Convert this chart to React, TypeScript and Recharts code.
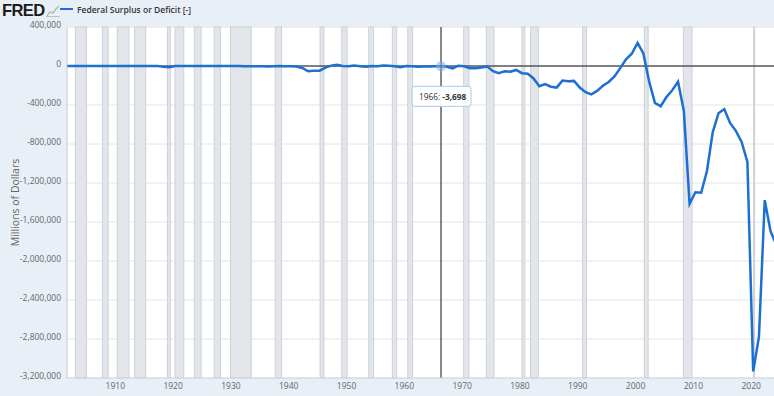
import React from 'react';
import {
  LineChart,
  Line,
  XAxis,
  YAxis,
  CartesianGrid,
  ReferenceArea,
  ReferenceLine,
  ReferenceDot,
} from 'recharts';

// Federal Surplus or Deficit [-], millions of dollars, fiscal years from 1901
const START_YEAR = 1901;
const deficitValues: number[] = [
  63, 77, 45, -43, -23, 25, 87, -57, -89, -18, // 1901-1910
  11, 3, 0, 0, -63, 48, -853, -9032, -13363, 291, // 1911-1920
  509, 736, 713, 963, 717, 865, 1155, 939, 734, 738, // 1921-1930
  -462, -2735, -2602, -3586, -2803, -4304, -2193, -89, -2846, -2920, // 1931-1940
  -4941, -20503, -54554, -47557, -47553, -15936, 4018, 11796, 580, -3119, // 1941-1950
  6102, -1519, -6493, -1154, -2993, 3947, 3412, -2769, -12849, 301, // 1951-1960
  -3335, -7146, -4756, -5915, -1411, -3698, -8643, -25161, 3242, -2842, // 1961-1970
  -23033, -23373, -14908, -6135, -53242, -73732, -53659, -59185, -40726, -73830, // 1971-1980
  -78968, -127977, -207802, -185367, -212308, -221227, -149730, -155178, -152639, -221036, // 1981-1990
  -269238, -290321, -255051, -203186, -163952, -107431, -21884, 69270, 125610, 236241, // 1991-2000
  128236, -157758, -377585, -412727, -318346, -248181, -160701, -458553, -1412688, -1294373, // 2001-2010
  -1299599, -1076573, -679775, -484602, -441960, -584651, -665446, -779137, -983593, -3131917, // 2011-2020
  -2775298, -1375905, -1693668, -1832816, // 2021-2024
];

const decadeTicks = [1910, 1920, 1930, 1940, 1950, 1960, 1970, 1980, 1990, 2000, 2010, 2020];
const yTicks = [400000, 0, -400000, -800000, -1200000, -1600000, -2000000, -2400000, -2800000, -3200000];

// NBER recession periods (decimal years)
const recessionStarts = [1902.75, 1907.42, 1910.0, 1913.0, 1918.67, 1920.0, 1923.33, 1926.75, 1929.58, 1937.33, 1945.08, 1948.83, 1953.5, 1957.58, 1960.25, 1969.92, 1973.83, 1980.0, 1981.5, 1990.5, 2001.17, 2007.92, 2020.08];
const recessionEnds = [1904.67, 1908.42, 1912.0, 1914.92, 1919.17, 1921.5, 1924.5, 1927.83, 1933.17, 1938.42, 1945.75, 1949.75, 1954.33, 1958.33, 1961.08, 1970.83, 1975.17, 1980.5, 1982.83, 1991.17, 2001.83, 2009.42, 2020.25];

const highlightYear = 1966;
const seriesName = 'Federal Surplus or Deficit [-]';
const yAxisTitle = 'Millions of Dollars';

const data = deficitValues.map((v, i) => ({ year: START_YEAR + i, value: v }));
const highlight = data.find((d) => d.year === highlightYear)!;

const FONT = '"Open Sans", "Noto Sans", sans-serif';
const LINE_COLOR = '#1d6fd2';

const fmt = (v: number) => v.toLocaleString('en-US');

const YTick = (props: any) => {
  const { x, y, payload } = props;
  return (
    <text x={x} y={y - 3} textAnchor="end" dominantBaseline="central" fill="#666" fontSize={8.5} fontFamily={FONT}>
      {fmt(payload.value)}
    </text>
  );
};

const XTick = (props: any) => {
  const { x, y, payload } = props;
  return (
    <text x={x - 2} y={y + 11} textAnchor="middle" fill="#666" fontSize={8.5} fontFamily={FONT}>
      {payload.value}
    </text>
  );
};

const TooltipShape = (props: any) => {
  const { cx, cy } = props;
  const w = 59;
  const h = 20;
  const bx = cx - 29;
  const by = cy + 20;
  return (
    <g>
      <circle cx={cx} cy={cy} r={5} fill="#7fb0e0" fillOpacity={0.55} />
      <rect x={bx} y={by} width={w} height={h} rx={3} fill="#ffffff" fillOpacity={0.95} stroke="#a8cbea" strokeWidth={1} />
      <text x={bx + 7} y={by + h / 2} dominantBaseline="central" fontSize={8.3} fontFamily={FONT} fill="#333">
        {`${highlight.year}:  `}
        <tspan fontWeight={700}>{fmt(highlight.value)}</tspan>
      </text>
    </g>
  );
};

export default function App() {
  return (
    <div
      style={{
        position: 'fixed',
        left: 0,
        top: 0,
        width: 774,
        height: 396,
        overflow: 'hidden',
        background: '#e9eff7',
        fontFamily: FONT,
      }}
    >
      <div style={{ position: 'absolute', left: 2, top: 0, height: 20, display: 'flex', alignItems: 'center' }}>
        <span
          style={{
            fontFamily: '"Liberation Sans", Arial, sans-serif',
            fontWeight: 900,
            fontSize: 16.5,
            letterSpacing: -0.6,
            color: '#1c1c1c',
            lineHeight: '20px',
          }}
        >
          FRED
        </span>
        <svg width={14} height={12} style={{ marginLeft: 1, marginTop: 2 }}>
          <polyline points="1,11 4,7 7,8 10,4 13,1" fill="none" stroke="#9bb99b" strokeWidth={1.2} />
          <line x1={0} y1={11.5} x2={14} y2={11.5} stroke="#b8c8b8" strokeWidth={1} />
        </svg>
      </div>
      <div style={{ position: 'absolute', left: 60, top: 3, display: 'flex', alignItems: 'center', height: 12 }}>
        <div style={{ width: 13, height: 2, background: LINE_COLOR, marginRight: 4 }} />
        <span style={{ fontSize: 8.5, fontWeight: 600, color: '#333', fontFamily: FONT }}>{seriesName}</span>
      </div>
      <LineChart width={774} height={396} data={data} margin={{ top: 27, right: 0, left: 0, bottom: 0 }}>
        <CartesianGrid vertical={false} stroke="#e4e4e4" fill="#ffffff" />
        {recessionStarts.map((s, i) => (
          <ReferenceArea
            key={`r${i}`}
            x1={s}
            x2={recessionEnds[i]}
            fill="#e2e6eb"
            fillOpacity={1}
            stroke="#ccd1d7"
            strokeWidth={1}
          />
        ))}
        <XAxis
          dataKey="year"
          type="number"
          domain={[1901.3, 2023.6]}
          allowDataOverflow
          ticks={decadeTicks}
          height={18}
          tickLine={false}
          tickSize={0}
          tickMargin={0}
          axisLine={{ stroke: '#ccd6eb' }}
          tick={<XTick />}
          interval={0}
        />
        <YAxis
          type="number"
          domain={[-3200000, 400000]}
          ticks={yTicks}
          width={67}
          tickLine={false}
          tickSize={4}
          tickMargin={2}
          axisLine={{ stroke: '#c8c8c8' }}
          tick={<YTick />}
          interval={0}
          label={{
            value: yAxisTitle,
            angle: -90,
            position: 'insideLeft',
            offset: 15,
            style: { textAnchor: 'middle', fill: '#666', fontSize: 10.5, fontFamily: FONT },
          }}
        />
        <ReferenceLine y={0} stroke="#111" strokeWidth={1} />
        <Line
          type="linear"
          dataKey="value"
          stroke={LINE_COLOR}
          strokeWidth={2.5}
          dot={false}
          isAnimationActive={false}
        />
        <ReferenceLine x={highlightYear} stroke="#111" strokeWidth={1} />
        <ReferenceDot x={highlight.year} y={highlight.value} shape={<TooltipShape />} />
      </LineChart>
    </div>
  );
}
